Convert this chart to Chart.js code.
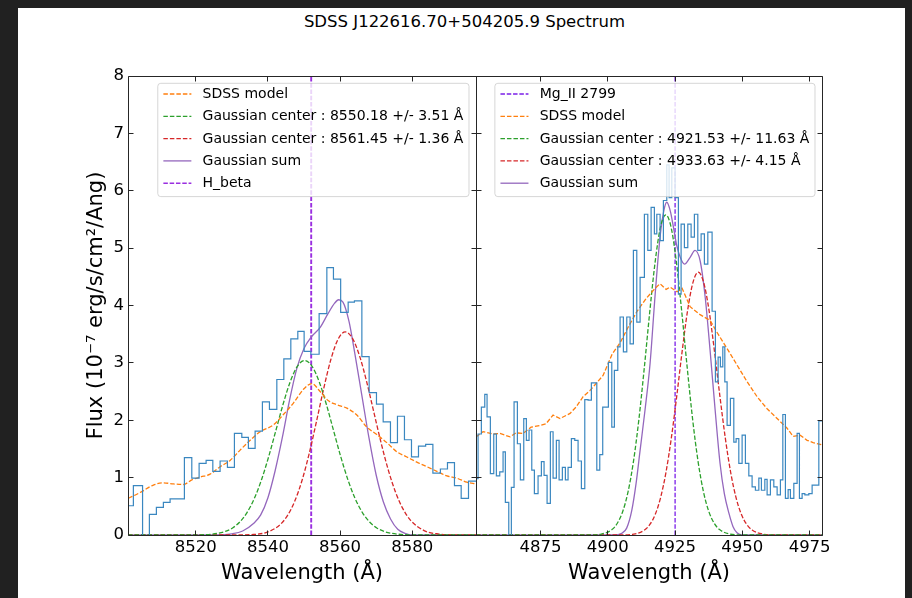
<!DOCTYPE html>
<html>
<head>
<meta charset="utf-8">
<script src="https://cdn.jsdelivr.net/npm/chart.js@4.4.1/dist/chart.umd.min.js"></script>
<style>
  html, body { margin: 0; padding: 0; background: #212121; }
  body { width: 912px; height: 598px; position: relative; overflow: hidden; }
  #paper { position: absolute; left: 18px; top: 8px; width: 887px; height: 590px; background: #ffffff; }
  #title { position: absolute; left: 0; top: 12px; width: 929px; text-align: center;
           font: 16.5px 'DejaVu Sans', sans-serif; line-height: 20px; color: #000; }
  canvas { position: absolute; top: 0; }
  #c1 { left: 0; }
  #c2 { left: 476px; }
</style>
</head>
<body>
<div id="paper"></div>
<div id="title">SDSS J122616.70+504205.9 Spectrum</div>
<canvas id="c1" width="480" height="598" style="width:480px;height:598px"></canvas>
<canvas id="c2" width="429" height="598" style="width:429px;height:598px"></canvas>
<script>
// ---------------- DATA ----------------
const xTicksLeft = [8520, 8540, 8560, 8580];
const xTicksRight = [4875, 4900, 4925, 4950, 4975];
const yTicks = [0, 1, 2, 3, 4, 5, 6, 7, 8];
const xRangeLeft = [8501.2, 8597.7];
const xRangeRight = [4851.0, 4979.6];
const fluxRange = [0, 8];

// Observed spectrum (left edge of each pixel, flux)
const leftBinEdges = [8501.3, 8502.69, 8505.24, 8507.13, 8509.07, 8511.01, 8512.87, 8516.84, 8518.89, 8520.92,
  8522.86, 8524.72, 8526.74, 8528.77, 8530.71, 8532.76, 8534.59, 8536.45, 8538.47, 8540.42,
  8542.47, 8544.41, 8546.35, 8548.29, 8550.04, 8551.90, 8554.20, 8556.34, 8558.17, 8560.17,
  8562.25, 8563.99, 8566.05, 8568.07, 8570.10, 8571.96, 8573.98, 8575.92, 8577.86, 8579.81,
  8581.75, 8583.74, 8585.74, 8587.82, 8589.79, 8591.73, 8593.59, 8595.62];
const leftBinFlux = [0.51, 0.86, -0.3, 0.36, 0.48, 0.57, 0.63, 1.35, 0.99, 1.25,
  1.30, 1.11, 1.29, 1.18, 1.77, 1.70, 1.51, 1.81, 2.32, 2.19,
  2.71, 3.07, 3.42, 3.55, 3.20, 3.15, 3.86, 4.66, 4.46, 3.88,
  4.06, 4.08, 3.11, 2.48, 2.28, 1.97, 1.61, 2.07, 1.66, 1.36,
  1.55, 1.58, 1.08, 1.15, 1.26, 0.86, 0.64, 0.94];

const rightBinEdges = [4851.0, 4851.77, 4852.99, 4854.26, 4855.11, 4856.34, 4857.60, 4858.57, 4859.83, 4861.06,
  4861.91, 4863.18, 4864.14, 4865.15, 4866.38, 4867.49, 4868.75, 4869.72, 4870.72, 4871.73,
  4872.70, 4874.07, 4875.30, 4876.30, 4877.42, 4878.64, 4879.65, 4880.87, 4881.88, 4883.10,
  4884.22, 4885.22, 4886.45, 4887.71, 4888.94, 4890.17, 4891.43, 4892.66, 4893.88, 4895.90,
  4897.00, 4898.10, 4900.20, 4901.47, 4902.43, 4903.70, 4904.55, 4905.78, 4907.04, 4908.27,
  4909.50, 4910.76, 4911.99, 4913.59, 4914.85, 4916.08, 4917.30, 4918.20, 4919.42, 4920.65,
  4921.91, 4922.77, 4923.77, 4925.00, 4926.23, 4927.23, 4928.46, 4929.72, 4930.95, 4932.17,
  4933.44, 4934.67, 4935.89, 4937.16, 4938.75, 4939.98, 4940.99, 4941.84, 4942.73, 4943.48,
  4944.33, 4945.56, 4946.82, 4947.68, 4948.68, 4949.91, 4951.13, 4952.40, 4953.62, 4954.85,
  4956.12, 4957.08, 4958.35, 4959.20, 4960.43, 4961.69, 4962.92, 4964.14, 4965.04, 4966.00,
  4967.01, 4967.86, 4969.13, 4970.35, 4971.21, 4972.21, 4973.22, 4974.70, 4975.93, 4978.42];
const rightBinFlux = [0.98, 1.76, 2.23, 2.45, 2.06, 1.07, 1.76, 1.03, 1.10, 1.45,
  0.57, -0.3, 0.83, 2.32, 1.59, 0.96, 2.03, 1.65, 1.83, 1.13,
  0.72, 1.03, 1.28, 1.04, 0.55, 1.80, 0.99, 1.65, 0.96, 1.18,
  0.96, 1.18, 1.68, 1.65, 1.29, 0.81, 2.36, 2.35, 2.65, 1.13,
  1.40, 2.23, 3.01, 1.88, 2.87, 3.28, 3.80, 3.19, 3.80, 3.33,
  4.96, 3.71, 4.49, 5.59, 4.96, 5.71, 5.25, 5.59, 5.13, 5.83,
  6.45, 5.88, 6.40, 5.88, 4.20, 5.42, 5.01, 5.42, 5.19, 5.59,
  4.96, 5.25, 4.72, 5.28, 3.90, 2.67, 3.10, 2.93, 3.28, 2.67,
  1.91, 2.38, 1.62, 1.68, 1.25, 1.74, 1.25, 1.03, 0.84, 0.78,
  0.99, 0.78, 0.97, 0.70, 0.96, 0.84, 0.70, 0.96, 2.10, 0.64,
  0.79, 0.64, 0.90, 1.77, 0.64, 0.72, 0.70, 0.72, 0.87, 1.99];

// SDSS model
const leftModelWave = [8501.3, 8504.55, 8508.24, 8511.01, 8513.79, 8516.56, 8518.89, 8521.19, 8523.97, 8526.74,
  8529.51, 8532.29, 8535.06, 8537.84, 8541.53, 8544.30, 8547.07, 8549.85, 8552.18, 8554.48,
  8556.78, 8559.11, 8561.89, 8564.66, 8567.43, 8570.21, 8572.98, 8575.76, 8578.53, 8581.30,
  8584.08, 8586.85, 8589.63, 8592.40, 8595.17, 8597.7];
const leftModelFlux = [0.64, 0.74, 0.87, 0.91, 0.89, 0.88, 0.96, 1.01, 1.06, 1.19,
  1.30, 1.48, 1.65, 1.80, 1.92, 2.10, 2.30, 2.54, 2.64, 2.50,
  2.34, 2.27, 2.21, 2.09, 1.88, 1.75, 1.61, 1.45, 1.36, 1.27,
  1.19, 1.11, 1.03, 0.99, 0.92, 0.89];

const rightModelWave = [4851.0, 4853.62, 4857.34, 4859.94, 4863.66, 4865.89, 4868.49, 4871.47, 4874.81, 4877.04,
  4879.65, 4882.25, 4885.97, 4888.20, 4890.80, 4893.40, 4895.63, 4898.23, 4901.58, 4904.55,
  4907.53, 4910.87, 4914.22, 4917.57, 4919.42, 4921.65, 4923.14, 4925.74, 4927.60, 4930.58,
  4934.29, 4938.01, 4940.99, 4944.33, 4948.05, 4951.77, 4955.48, 4959.20, 4962.92, 4966.64,
  4968.87, 4971.47, 4974.07, 4976.30, 4979.6];
const rightModelFlux = [1.71, 1.80, 1.76, 1.77, 1.71, 1.78, 1.77, 1.88, 1.91, 1.94,
  2.09, 2.03, 2.12, 2.23, 2.41, 2.52, 2.64, 2.78, 3.15, 3.35,
  3.62, 3.90, 4.12, 4.30, 4.38, 4.28, 4.32, 4.24, 4.30, 3.98,
  3.84, 3.74, 3.50, 3.25, 2.96, 2.67, 2.41, 2.20, 2.03, 1.86,
  1.72, 1.74, 1.65, 1.61, 1.57];

// Gaussian components (left: H_beta region)
const leftG1Wave = [8501.2, 8512.0, 8520.2, 8524.2, 8526.2, 8528.2, 8530.2, 8532.2, 8534.2, 8536.2, 8538.2,
  8540.2, 8542.2, 8544.2, 8546.2, 8548.2, 8550.2, 8552.2, 8554.2, 8556.2, 8558.2, 8560.2, 8562.2,
  8564.2, 8566.2, 8568.2, 8570.2, 8572.2, 8574.2, 8576.2, 8580.2, 8588.0, 8597.7];
const leftG1Flux = [0, 0, 0.002, 0.013, 0.030, 0.063, 0.123, 0.227, 0.391, 0.632, 0.959,
  1.364, 1.820, 2.278, 2.674, 2.944, 3.04, 2.944, 2.674, 2.278, 1.820, 1.364, 0.959,
  0.632, 0.391, 0.227, 0.123, 0.063, 0.030, 0.013, 0.002, 0, 0];

const leftG2Wave = [8501.2, 8520.0, 8531.45, 8535.45, 8539.45, 8543.45, 8545.45, 8547.45, 8549.45, 8551.45,
  8553.45, 8555.45, 8557.45, 8559.45, 8561.45, 8563.45, 8565.45, 8567.45, 8569.45, 8571.45,
  8573.45, 8575.45, 8577.45, 8579.45, 8583.45, 8587.45, 8591.45, 8597.7];
const leftG2Flux = [0, 0, 0.001, 0.007, 0.043, 0.184, 0.342, 0.591, 0.950, 1.421,
  1.974, 2.548, 3.059, 3.413, 3.54, 3.428, 3.114, 2.653, 2.120, 1.589,
  1.117, 0.736, 0.455, 0.264, 0.073, 0.016, 0.003, 0];

const leftSumWave = [8501.2, 8520.0, 8526.0, 8530.0, 8533.0, 8536.0, 8538.0, 8540.0, 8542.0, 8544.0,
  8546.0, 8548.0, 8550.0, 8552.0, 8554.5, 8556.5, 8558.5, 8559.6, 8560.8, 8562.5,
  8564.0, 8566.0, 8568.0, 8570.0, 8572.0, 8574.0, 8576.0, 8578.0, 8580.0, 8597.7];
const leftSumFlux = [0, 0, 0.0, 0.02, 0.07, 0.20, 0.35, 0.65, 1.12, 1.70,
  2.35, 2.90, 3.25, 3.45, 3.62, 3.84, 4.04, 4.10, 4.06, 3.72,
  3.20, 2.45, 1.70, 1.05, 0.58, 0.28, 0.10, 0.03, 0.0, 0];

// Gaussian components (right: Mg II region)
const rightG1Wave = [4851.0, 4880.0, 4893.5, 4897.53, 4901.53, 4903.53, 4905.53, 4907.53, 4909.53, 4911.53,
  4913.53, 4915.53, 4917.53, 4919.53, 4921.53, 4923.53, 4925.53, 4927.53, 4929.53, 4931.53,
  4933.53, 4935.53, 4937.53, 4939.53, 4941.53, 4945.53, 4949.53, 4960.0, 4979.6];
const rightG1Flux = [0, 0, 0.002, 0.016, 0.094, 0.205, 0.41, 0.755, 1.284, 2.01,
  2.904, 3.865, 4.74, 5.36, 5.58, 5.36, 4.74, 3.865, 2.904, 2.01,
  1.284, 0.755, 0.41, 0.205, 0.094, 0.016, 0.002, 0, 0];

const rightG2Wave = [4851.0, 4890.0, 4905.63, 4909.63, 4913.63, 4915.63, 4917.63, 4919.63, 4921.63, 4923.63,
  4925.63, 4927.63, 4929.63, 4931.63, 4933.63, 4935.63, 4937.63, 4939.63, 4941.63, 4943.63,
  4945.63, 4947.63, 4949.63, 4951.63, 4953.63, 4957.63, 4961.63, 4970.0, 4979.6];
const rightG2Flux = [0, 0, 0.002, 0.015, 0.087, 0.184, 0.36, 0.655, 1.098, 1.70,
  2.427, 3.205, 3.91, 4.40, 4.58, 4.40, 3.91, 3.205, 2.427, 1.70,
  1.098, 0.655, 0.36, 0.184, 0.087, 0.015, 0.002, 0, 0];

const rightSumWave = [4851.0, 4890.0, 4902.0, 4905.2, 4907.0, 4908.9, 4910.5, 4912.0, 4913.8, 4915.7,
  4917.6, 4919.4, 4920.8, 4921.9, 4923.2, 4924.4, 4925.6, 4926.9, 4928.5, 4930.6,
  4932.4, 4934.3, 4936.2, 4938.0, 4939.9, 4941.7, 4943.3, 4945.0, 4946.5, 4948.0,
  4950.0, 4960.0, 4979.6];
const rightSumFlux = [0, 0, 0.0, 0.03, 0.12, 0.43, 0.90, 1.48, 2.17, 2.99,
  4.20, 5.19, 5.65, 5.80, 5.65, 5.36, 5.05, 4.84, 4.72, 4.84,
  4.96, 4.78, 4.14, 3.22, 2.17, 1.25, 0.72, 0.38, 0.15, 0.04,
  0.0, 0, 0];

const hBetaWave = 8552.0;
const mgIIWave = 4925.0;

const leftLabels = ['SDSS model', 'Gaussian center : 8550.18 +/- 3.51 Å', 'Gaussian center : 8561.45 +/- 1.36 Å', 'Gaussian sum', 'H_beta'];
const rightLabels = ['Mg_II 2799', 'SDSS model', 'Gaussian center : 4921.53 +/- 11.63 Å', 'Gaussian center : 4933.63 +/- 4.15 Å', 'Gaussian sum'];
const xTitle = 'Wavelength (Å)';
const yTitle = 'Flux (10⁻⁷ erg/s/cm²/Ang)';

// ---------------- HELPERS ----------------
const FONT = "'DejaVu Sans', sans-serif";
const pts = (xs, ys) => xs.map((x, i) => ({ x: x, y: ys[i] }));
const steps = (edges, flux, end) => pts(edges, flux).concat([{ x: end, y: flux[flux.length - 1] }]);
const vline = (w) => [{ x: w, y: fluxRange[0] }, { x: w, y: fluxRange[1] }];

const C = { blue: '#3a87c0', orange: '#ff7f0e', green: '#2ca02c', red: '#d62728', purple: '#9467bd',
            hb: '#9a2fe0', mg: '#7b1fe8' };
const DASH = [4.5, 2];

function ds(label, data, color, opt) {
  return Object.assign({ label: label, data: data, borderColor: color, backgroundColor: color,
    borderWidth: 1.3, pointRadius: 0, fill: false, clip: 0, tension: 0 }, opt || {});
}

const px = v => Math.floor(v) + 0.5;
const framePlugin = {
  id: 'frameTicks',
  afterDatasetsDraw(chart, args, opts) {
    const { ctx, chartArea: a } = chart;
    const x = chart.scales.x, y = chart.scales.y;
    const xt = (opts && opts.xTicks) || [];
    const L = px(a.left), R = px(a.right), T = px(a.top), B = px(a.bottom);
    ctx.save();
    ctx.strokeStyle = '#262626';
    ctx.lineWidth = 1;
    ctx.setLineDash([]);
    ctx.beginPath();
    ctx.rect(L, T, R - L, B - T);
    ctx.stroke();
    const tl = 5;
    ctx.beginPath();
    xt.forEach(t => {
      const X = px(x.getPixelForValue(t));
      ctx.moveTo(X, B); ctx.lineTo(X, B - tl);
      ctx.moveTo(X, T); ctx.lineTo(X, T + tl);
    });
    yTicks.forEach(t => {
      const Y = px(y.getPixelForValue(t));
      ctx.moveTo(L, Y); ctx.lineTo(L + tl, Y);
      ctx.moveTo(R, Y); ctx.lineTo(R - tl, Y);
    });
    ctx.stroke();
    ctx.restore();
  }
};

const boxLegend = {
  id: 'boxLegend',
  afterDraw(chart, args, opts) {
    const { ctx, chartArea: a } = chart;
    const order = (opts && opts.order) || [];
    const sets = chart.data.datasets;
    const items = order.map(lbl => {
      const d = sets.find(s => s.label === lbl);
      return { text: lbl, color: d.borderColor, dash: d.borderDash || [], width: Math.min(d.borderWidth, 1.4) };
    });
    if (!items.length) return;
    ctx.save();
    ctx.font = '14px ' + FONT;
    const tw = Math.max.apply(null, items.map(it => ctx.measureText(it.text).width));
    const pad = 5.6, handle = 28, gap = 11.2, rowH = 22.3;
    const w = pad + handle + gap + tw + pad;
    const h = 10.7 + rowH * (items.length - 1) + 13.4;
    const bx = a.right - 7 - w, by = a.top + 7.3, r = 3;
    ctx.beginPath();
    ctx.moveTo(bx + r, by);
    ctx.lineTo(bx + w - r, by); ctx.arcTo(bx + w, by, bx + w, by + r, r);
    ctx.lineTo(bx + w, by + h - r); ctx.arcTo(bx + w, by + h, bx + w - r, by + h, r);
    ctx.lineTo(bx + r, by + h); ctx.arcTo(bx, by + h, bx, by + h - r, r);
    ctx.lineTo(bx, by + r); ctx.arcTo(bx, by, bx + r, by, r);
    ctx.closePath();
    ctx.fillStyle = 'rgba(255,255,255,0.8)';
    ctx.fill();
    ctx.strokeStyle = 'rgba(204,204,204,0.8)';
    ctx.lineWidth = 1;
    ctx.stroke();
    items.forEach((it, i) => {
      const cy = by + 10.7 + i * rowH;
      ctx.beginPath();
      ctx.setLineDash(it.dash || []);
      ctx.strokeStyle = it.color;
      ctx.lineWidth = it.width;
      ctx.moveTo(bx + pad, cy); ctx.lineTo(bx + pad + handle, cy);
      ctx.stroke();
      ctx.setLineDash([]);
      ctx.fillStyle = '#000';
      ctx.textBaseline = 'middle';
      ctx.textAlign = 'left';
      ctx.fillText(it.text, bx + pad + handle + gap, cy + 0.5);
    });
    ctx.restore();
  }
};

function makeChart(canvas, cfg) {
  return new Chart(canvas, {
    type: 'line',
    data: { datasets: cfg.datasets },
    options: {
      responsive: false,
      animation: false,
      events: [],
      layout: { padding: cfg.padding },
      plugins: {
        legend: { display: false }, tooltip: { enabled: false }, title: { display: false },
        frameTicks: { xTicks: cfg.xTicks },
        boxLegend: { order: cfg.legendOrder }
      },
      scales: {
        x: {
          type: 'linear', position: 'bottom', min: cfg.xRange[0], max: cfg.xRange[1],
          grid: { display: false, drawTicks: false }, border: { display: false },
          ticks: { font: { family: FONT, size: 16.5 }, color: '#000', padding: 3, maxRotation: 0, autoSkip: false,
                   callback: v => String(v) },
          afterBuildTicks: s => { s.ticks = cfg.xTicks.map(v => ({ value: v })); },
          afterFit: s => { s.height = 63; },
          title: { display: true, text: xTitle, font: { family: FONT, size: 21 }, color: '#000',
                   padding: { top: 0, bottom: 12 } }
        },
        y: {
          type: 'linear', position: 'left', min: fluxRange[0], max: fluxRange[1],
          grid: { display: false, drawTicks: false }, border: { display: false },
          ticks: { display: cfg.yLabels, font: { family: FONT, size: 16.5 }, color: '#000', padding: 4,
                   callback: v => String(v) },
          afterBuildTicks: s => { s.ticks = yTicks.map(v => ({ value: v })); },
          afterFit: s => { s.width = cfg.yWidth; },
          title: { display: cfg.yLabels, text: yTitle, font: { family: FONT, size: 21 }, color: '#000',
                   padding: { top: 84, bottom: 0 } }
        }
      }
    },
    plugins: [framePlugin, boxLegend]
  });
}

// ---------------- LEFT PANEL ----------------
const leftSets = [
  ds('spectrum', steps(leftBinEdges, leftBinFlux, xRangeLeft[1]), C.blue, { stepped: 'before', borderWidth: 1.2 }),
  ds(leftLabels[0], pts(leftModelWave, leftModelFlux), C.orange, { borderDash: DASH, cubicInterpolationMode: 'monotone' }),
  ds(leftLabels[1], pts(leftG1Wave, leftG1Flux), C.green, { borderDash: DASH, cubicInterpolationMode: 'monotone' }),
  ds(leftLabels[2], pts(leftG2Wave, leftG2Flux), C.red, { borderDash: DASH, cubicInterpolationMode: 'monotone' }),
  ds(leftLabels[3], pts(leftSumWave, leftSumFlux), C.purple, { cubicInterpolationMode: 'monotone' }),
  ds(leftLabels[4], vline(hBetaWave), C.hb, { borderDash: [4.5, 1.8], borderWidth: 1.9 })
];
makeChart(document.getElementById('c1'), {
  datasets: leftSets, xRange: xRangeLeft, xTicks: xTicksLeft, yLabels: true, yWidth: 128,
  padding: { left: 0, right: 4, top: 76, bottom: 0 }, legendOrder: leftLabels
});

// ---------------- RIGHT PANEL ----------------
const rightSets = [
  ds('spectrum', steps(rightBinEdges, rightBinFlux, xRangeRight[1]), C.blue, { stepped: 'before', borderWidth: 1.2 }),
  ds(rightLabels[1], pts(rightModelWave, rightModelFlux), C.orange, { borderDash: DASH }),
  ds(rightLabels[2], pts(rightG1Wave, rightG1Flux), C.green, { borderDash: DASH, cubicInterpolationMode: 'monotone' }),
  ds(rightLabels[3], pts(rightG2Wave, rightG2Flux), C.red, { borderDash: DASH, cubicInterpolationMode: 'monotone' }),
  ds(rightLabels[4], pts(rightSumWave, rightSumFlux), C.purple, { cubicInterpolationMode: 'monotone' }),
  ds(rightLabels[0], vline(mgIIWave), C.mg, { borderDash: [4.5, 1.8], borderWidth: 1.3 })
];
makeChart(document.getElementById('c2'), {
  datasets: rightSets, xRange: xRangeRight, xTicks: xTicksRight, yLabels: false, yWidth: 0,
  padding: { left: 0, right: 83, top: 76, bottom: 0 }, legendOrder: rightLabels
});
</script>
</body>
</html>
